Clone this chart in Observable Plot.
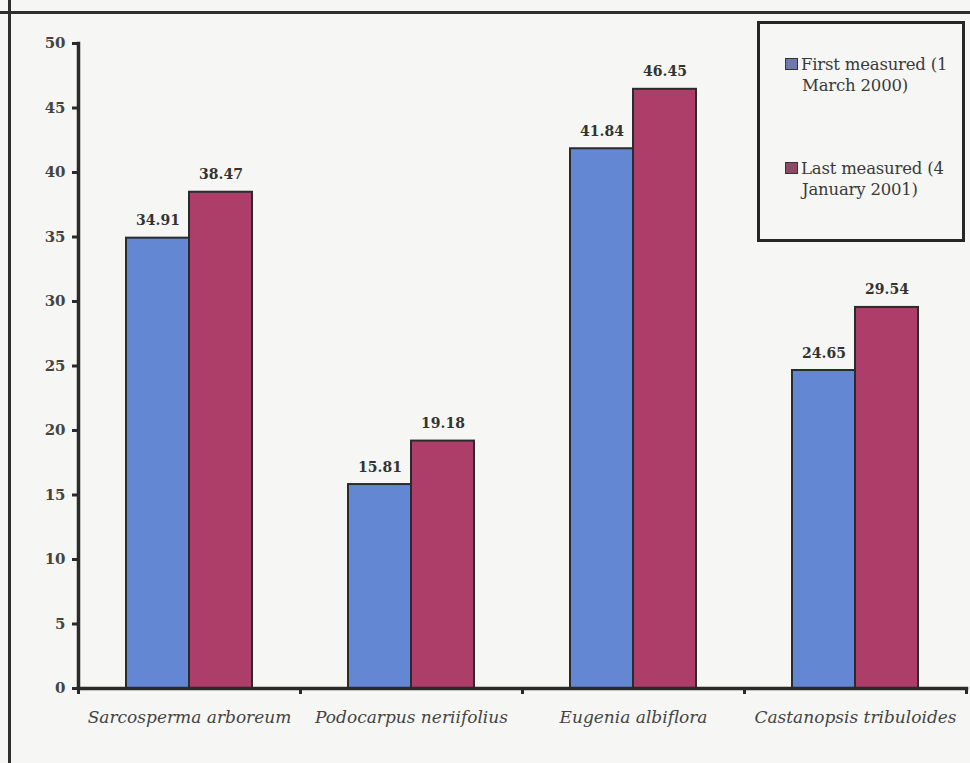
<!DOCTYPE html>
<html>
<head>
<meta charset="utf-8">
<script src="https://cdn.jsdelivr.net/npm/d3@7"></script>
<script src="https://cdn.jsdelivr.net/npm/@observablehq/plot@0.6"></script>
<style>
  html, body { margin: 0; padding: 0; background: #f6f7f4; }
  #wrap { position: relative; width: 970px; height: 763px; overflow: hidden; background: #f6f7f4; }
  #topline { position: absolute; left: 0; top: 11px; width: 970px; height: 3px; background: #2e2e2e; }
  #leftline { position: absolute; left: 8px; top: 0; width: 3px; height: 763px; background: #2e2e2e; }
  #legend { position: absolute; left: 757px; top: 21px; width: 202px; height: 215px; border: 3px solid #262626; box-sizing: content-box;
            font-family: "DejaVu Serif", serif; font-size: 16.5px; color: #3a3a3a; line-height: 21px; letter-spacing: -0.2px; }
  .item { position: absolute; left: 25px; white-space: nowrap; }
  .sw { display: inline-block; width: 11px; height: 10px; border: 1px solid #333; margin-right: 3px; vertical-align: 0px; }
  .line2 { padding-left: 17px; }
  #chart { position: absolute; left: 0; top: 0; }
  #chart svg, #chart svg text { font-family: "DejaVu Serif", serif !important; }
</style>
</head>
<body>
<div id="wrap">
  <div id="chart"></div>
  <div id="topline"></div>
  <div id="leftline"></div>
  <div id="legend"></div>
</div>
<script>
const species = ["Sarcosperma arboreum", "Podocarpus neriifolius", "Eugenia albiflora", "Castanopsis tribuloides"];
const firstMeasured = [34.91, 15.81, 41.84, 24.65];
const lastMeasured = [38.47, 19.18, 46.45, 29.54];
const seriesNames = ["First measured (1 March 2000)", "Last measured (4 January 2001)"];
const legendLines = [["First measured (1", "March 2000)"], ["Last measured (4", "January 2001)"]];
const yTicks = [0, 5, 10, 15, 20, 25, 30, 35, 40, 45, 50];

const blue = "#6487d3";
const red = "#ad3e69";
const legendSwatch = ["#6f79ab", "#8c4a66"];

const data = species.map((s, i) => ({species: s, first: firstMeasured[i], last: lastMeasured[i]}));

const serif = "'DejaVu Serif', serif";

const chart = Plot.plot({
  width: 970,
  height: 763,
  marginLeft: 78,
  marginRight: 4,
  marginTop: 43,
  marginBottom: 75,
  style: { background: "transparent", fontFamily: serif },
  x: { domain: species, padding: 0, axis: null },
  y: { domain: [0, 50], axis: null },
  marks: [
    Plot.barY(data, { x: "species", y: "first", fill: blue, stroke: "#2b2b2b", strokeWidth: 2, insetLeft: 48, insetRight: 111 }),
    Plot.barY(data, { x: "species", y: "last", fill: red, stroke: "#2b2b2b", strokeWidth: 2, insetLeft: 111, insetRight: 48 }),
    Plot.text(data, { x: "species", y: "first", text: d => d.first.toFixed(2), dx: -31.5, dy: -13, lineAnchor: "bottom", fontWeight: "bold", fontSize: 14, fill: "#333" }),
    Plot.text(data, { x: "species", y: "last", text: d => d.last.toFixed(2), dx: 31.5, dy: -13, lineAnchor: "bottom", fontWeight: "bold", fontSize: 14, fill: "#333" }),
    Plot.frame({ anchor: "left", stroke: "#2a2a2a", strokeWidth: 3.5 }),
    Plot.frame({ anchor: "bottom", stroke: "#2a2a2a", strokeWidth: 3.5 }),
    Plot.axisY({ ticks: yTicks, tickSize: 6, tickPadding: 7, strokeWidth: 3, stroke: "#2a2a2a", fontWeight: "bold", fontSize: 15, fill: "#444", label: null }),
    Plot.axisX({ ticks: species, tickSize: 0, tickPadding: 22, fontStyle: "italic", fontSize: 17, fill: "#444", label: null }),
    Plot.axisX({ ticks: species, tickSize: 6, tickFormat: () => "", dx: -111, strokeWidth: 3, stroke: "#2a2a2a", label: null }),
    Plot.axisX({ ticks: species.slice(-1), tickSize: 6, tickFormat: () => "", dx: 111, strokeWidth: 3, stroke: "#2a2a2a", label: null })
  ]
});
document.getElementById("chart").appendChild(chart);

const legend = document.getElementById("legend");
const tops = [30, 134];
legendLines.forEach((lines, i) => {
  const item = document.createElement("div");
  item.className = "item";
  item.style.top = tops[i] + "px";
  item.title = seriesNames[i];
  item.innerHTML = `<div><span class="sw" style="background:${legendSwatch[i]}"></span>${lines[0]}</div><div class="line2">${lines[1]}</div>`;
  legend.appendChild(item);
});
</script>
</body>
</html>
